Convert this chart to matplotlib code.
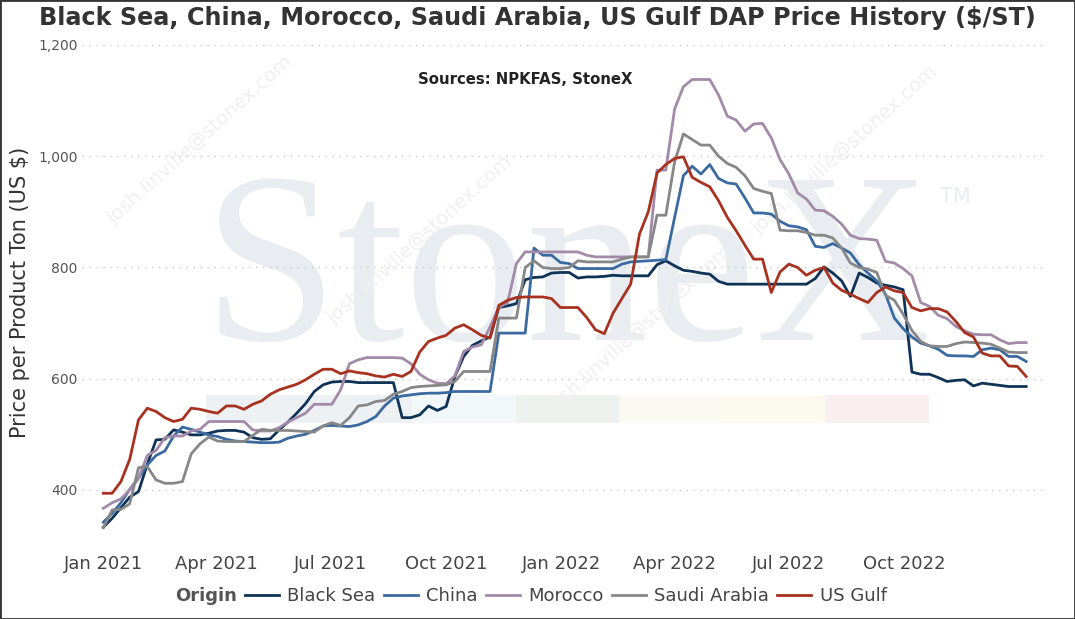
import numpy as np
import pandas as pd
import matplotlib
matplotlib.use("Agg")
import matplotlib.pyplot as plt
import matplotlib.dates as mdates
from matplotlib.patches import Rectangle
from matplotlib.lines import Line2D
from matplotlib.ticker import FuncFormatter, MultipleLocator

# weekly prices, $/short ton, Jan 2021 - Jan 2023
weeks = pd.date_range("2021-01-01", periods=106, freq="7D")
tick_dates = pd.date_range("2021-01-01", "2022-10-01", freq="3MS")

black_sea = [333, 349, 368, 387, 397, 446, 490, 491, 508, 504,
             499, 499, 502, 506, 507, 507, 504, 494, 491, 492,
             508, 522, 538, 555, 577, 589, 594, 595, 595, 593,
             593, 593, 593, 593, 530, 530, 535, 551, 543, 550,
             604, 640, 660, 668, 675, 728, 731, 735, 778, 782,
             783, 790, 791, 791, 781, 783, 783, 784, 786, 785,
             785, 785, 785, 805, 812, 803, 795, 793, 790, 788,
             775, 770, 770, 770, 770, 770, 770, 770, 770, 770,
             770, 780, 801, 790, 776, 748, 790, 782, 772, 768,
             765, 760, 612, 608, 608, 602, 595, 597, 598, 587,
             592, 590, 588, 586, 586, 586]

china = [342, 358, 377, 401, 421, 445, 462, 470, 497, 513,
         509, 504, 499, 496, 491, 488, 487, 486, 485, 485,
         486, 493, 497, 500, 507, 515, 516, 515, 514, 517,
         523, 532, 551, 565, 569, 571, 573, 574, 574, 575,
         577, 577, 577, 577, 577, 682, 682, 682, 682, 835,
         822, 822, 809, 807, 798, 798, 798, 798, 798, 806,
         810, 811, 812, 813, 814, 890, 965, 982, 968, 985,
         960, 952, 950, 925, 898, 898, 896, 883, 875, 873,
         868, 838, 836, 843, 835, 826, 805, 790, 776, 752,
         709, 690, 675, 664, 659, 653, 642, 641, 641, 640,
         652, 655, 652, 640, 640, 631]

morocco = [367, 377, 384, 400, 421, 462, 471, 494, 497, 497,
           506, 509, 523, 523, 523, 523, 523, 508, 506, 506,
           512, 522, 530, 538, 554, 554, 554, 580, 627, 634,
           638, 638, 638, 638, 637, 627, 608, 598, 592, 591,
           605, 649, 657, 661, 693, 728, 737, 807, 828, 828,
           828, 828, 828, 828, 828, 822, 819, 819, 819, 819,
           819, 819, 819, 975, 975, 1085, 1125, 1138, 1138, 1138,
           1110, 1072, 1065, 1045, 1058, 1059, 1033, 994, 968, 934,
           923, 903, 902, 892, 878, 858, 852, 851, 849, 811,
           808, 798, 785, 737, 730, 714, 708, 694, 686, 680,
           679, 679, 670, 663, 665, 665]

saudi_arabia = [332, 364, 365, 375, 440, 442, 418, 412, 412, 415,
                465, 483, 495, 488, 487, 487, 487, 498, 509, 507,
                507, 507, 506, 505, 504, 515, 521, 516, 530, 551,
                553, 559, 561, 572, 577, 584, 586, 587, 588, 589,
                595, 613, 613, 613, 613, 709, 709, 709, 800, 812,
                800, 798, 798, 800, 812, 810, 810, 810, 810, 815,
                819, 819, 819, 894, 894, 990, 1040, 1030, 1020, 1020,
                1000, 987, 980, 965, 942, 937, 933, 867, 866, 866,
                863, 858, 858, 853, 835, 808, 800, 797, 791, 750,
                741, 716, 687, 667, 659, 658, 658, 663, 666, 665,
                664, 662, 655, 648, 647, 647]

us_gulf = [394, 394, 415, 455, 526, 547, 541, 530, 523, 527,
           547, 545, 541, 538, 551, 551, 545, 554, 560, 572,
           580, 585, 590, 598, 608, 617, 617, 609, 614, 611,
           609, 605, 603, 608, 604, 613, 648, 667, 673, 678,
           691, 697, 688, 678, 673, 732, 741, 746, 747, 747,
           747, 744, 728, 728, 728, 710, 688, 681, 718, 744,
           770, 860, 900, 970, 985, 996, 999, 962, 953, 945,
           920, 890, 866, 840, 815, 815, 755, 792, 806, 800,
           786, 795, 800, 772, 759, 752, 744, 737, 755, 765,
           758, 755, 728, 722, 726, 726, 720, 703, 683, 675,
           646, 641, 641, 623, 622, 604]

origins = ["Black Sea", "China", "Morocco", "Saudi Arabia", "US Gulf"]
colors = ["#0e3356", "#3a6a9f", "#a38aa9", "#878787", "#a8321f"]
series = [black_sea, china, morocco, saudi_arabia, us_gulf]

W, H = 1075, 619
fig = plt.figure(figsize=(W / 100, H / 100), dpi=100)


def fx(px):
    return px / W


def fy(py):
    return 1 - py / H


ax = fig.add_axes([fx(82), fy(540), fx(1045) - fx(82), fy(45) - fy(540)])
ax.patch.set_alpha(0)

# StoneX logo watermark behind the plot
fig.text(fx(203), fy(340), "StoneX", fontsize=175, family="Liberation Serif",
         color="#e9edf1", ha="left", va="baseline", zorder=-2)
fig.text(fx(940), fy(203), "TM", fontsize=15, color="#e9edf1",
         ha="left", va="baseline", zorder=-2)
band = [(206, 412, "#eef1f4"), (412, 516, "#f2f7fa"), (516, 619, "#edf2ef"),
        (619, 722, "#fafaf2"), (722, 825, "#fcf9ee"), (825, 929, "#f9eff1")]
for x0, x1, c in band:
    fig.patches.append(Rectangle((fx(x0), fy(423)), fx(x1) - fx(x0), fy(395) - fy(423),
                                 transform=fig.transFigure, color=c, lw=0, zorder=-2))
for cx, cy in [(200, 140), (420, 240), (845, 150), (640, 330)]:
    fig.text(fx(cx), fy(cy), "josh.linville@stonex.com", fontsize=14, color="#f0f0f0",
             rotation=42, ha="center", va="center", zorder=-1)

for vals, name, c in zip(series, origins, colors):
    ax.plot(weeks, vals, color=c, lw=2.0, label=name, solid_joinstyle="round")

ax.set_xlim(pd.Timestamp("2020-12-15"), pd.Timestamp("2023-01-21"))
ax.set_ylim(310, 1200)
ax.yaxis.set_major_locator(MultipleLocator(200))
ax.yaxis.set_major_formatter(FuncFormatter(lambda v, p: f"{v:,.0f}"))
ax.set_xticks(tick_dates)
ax.xaxis.set_major_formatter(mdates.DateFormatter("%b %Y"))
ax.grid(axis="y", color="#c8c8c8", lw=1, linestyle=(0, (1, 4)))
ax.set_axisbelow(True)
for s in ax.spines.values():
    s.set_visible(False)
ax.tick_params(axis="y", length=0, pad=3, labelsize=10, labelcolor="#555555")
ax.tick_params(axis="x", length=0, pad=11, labelsize=13, labelcolor="#444444")
ax.set_ylabel("Price per Product Ton (US $)", fontsize=15, color="#333333", labelpad=6)

fig.text(0.5, fy(18), "Black Sea, China, Morocco, Saudi Arabia, US Gulf DAP Price History ($/ST)",
         ha="center", va="center", fontsize=17.2, fontweight="bold", color="#333333")
fig.text(fx(525), fy(80), "Sources: NPKFAS, StoneX", ha="center", va="center",
         fontsize=10.7, fontweight="bold", color="#222222")

handles = [Line2D([], [], color=c, lw=2.0) for c in colors]
fig.text(fx(237), fy(596), "Origin", ha="right", va="center", fontsize=13,
         fontweight="bold", color="#555555")
leg = fig.legend(handles, origins, ncol=5, loc="center left",
                 bbox_to_anchor=(fx(245), fy(596)), frameon=False, fontsize=13,
                 handlelength=1.9, handletextpad=0.45, columnspacing=0.45,
                 borderpad=0, borderaxespad=0)
for t in leg.get_texts():
    t.set_color("#444444")

fig.patches.append(Rectangle((0, 0), 1, 1, transform=fig.transFigure, fill=False,
                             edgecolor="#333333", lw=2))

fig.savefig("out.png", dpi=100)
